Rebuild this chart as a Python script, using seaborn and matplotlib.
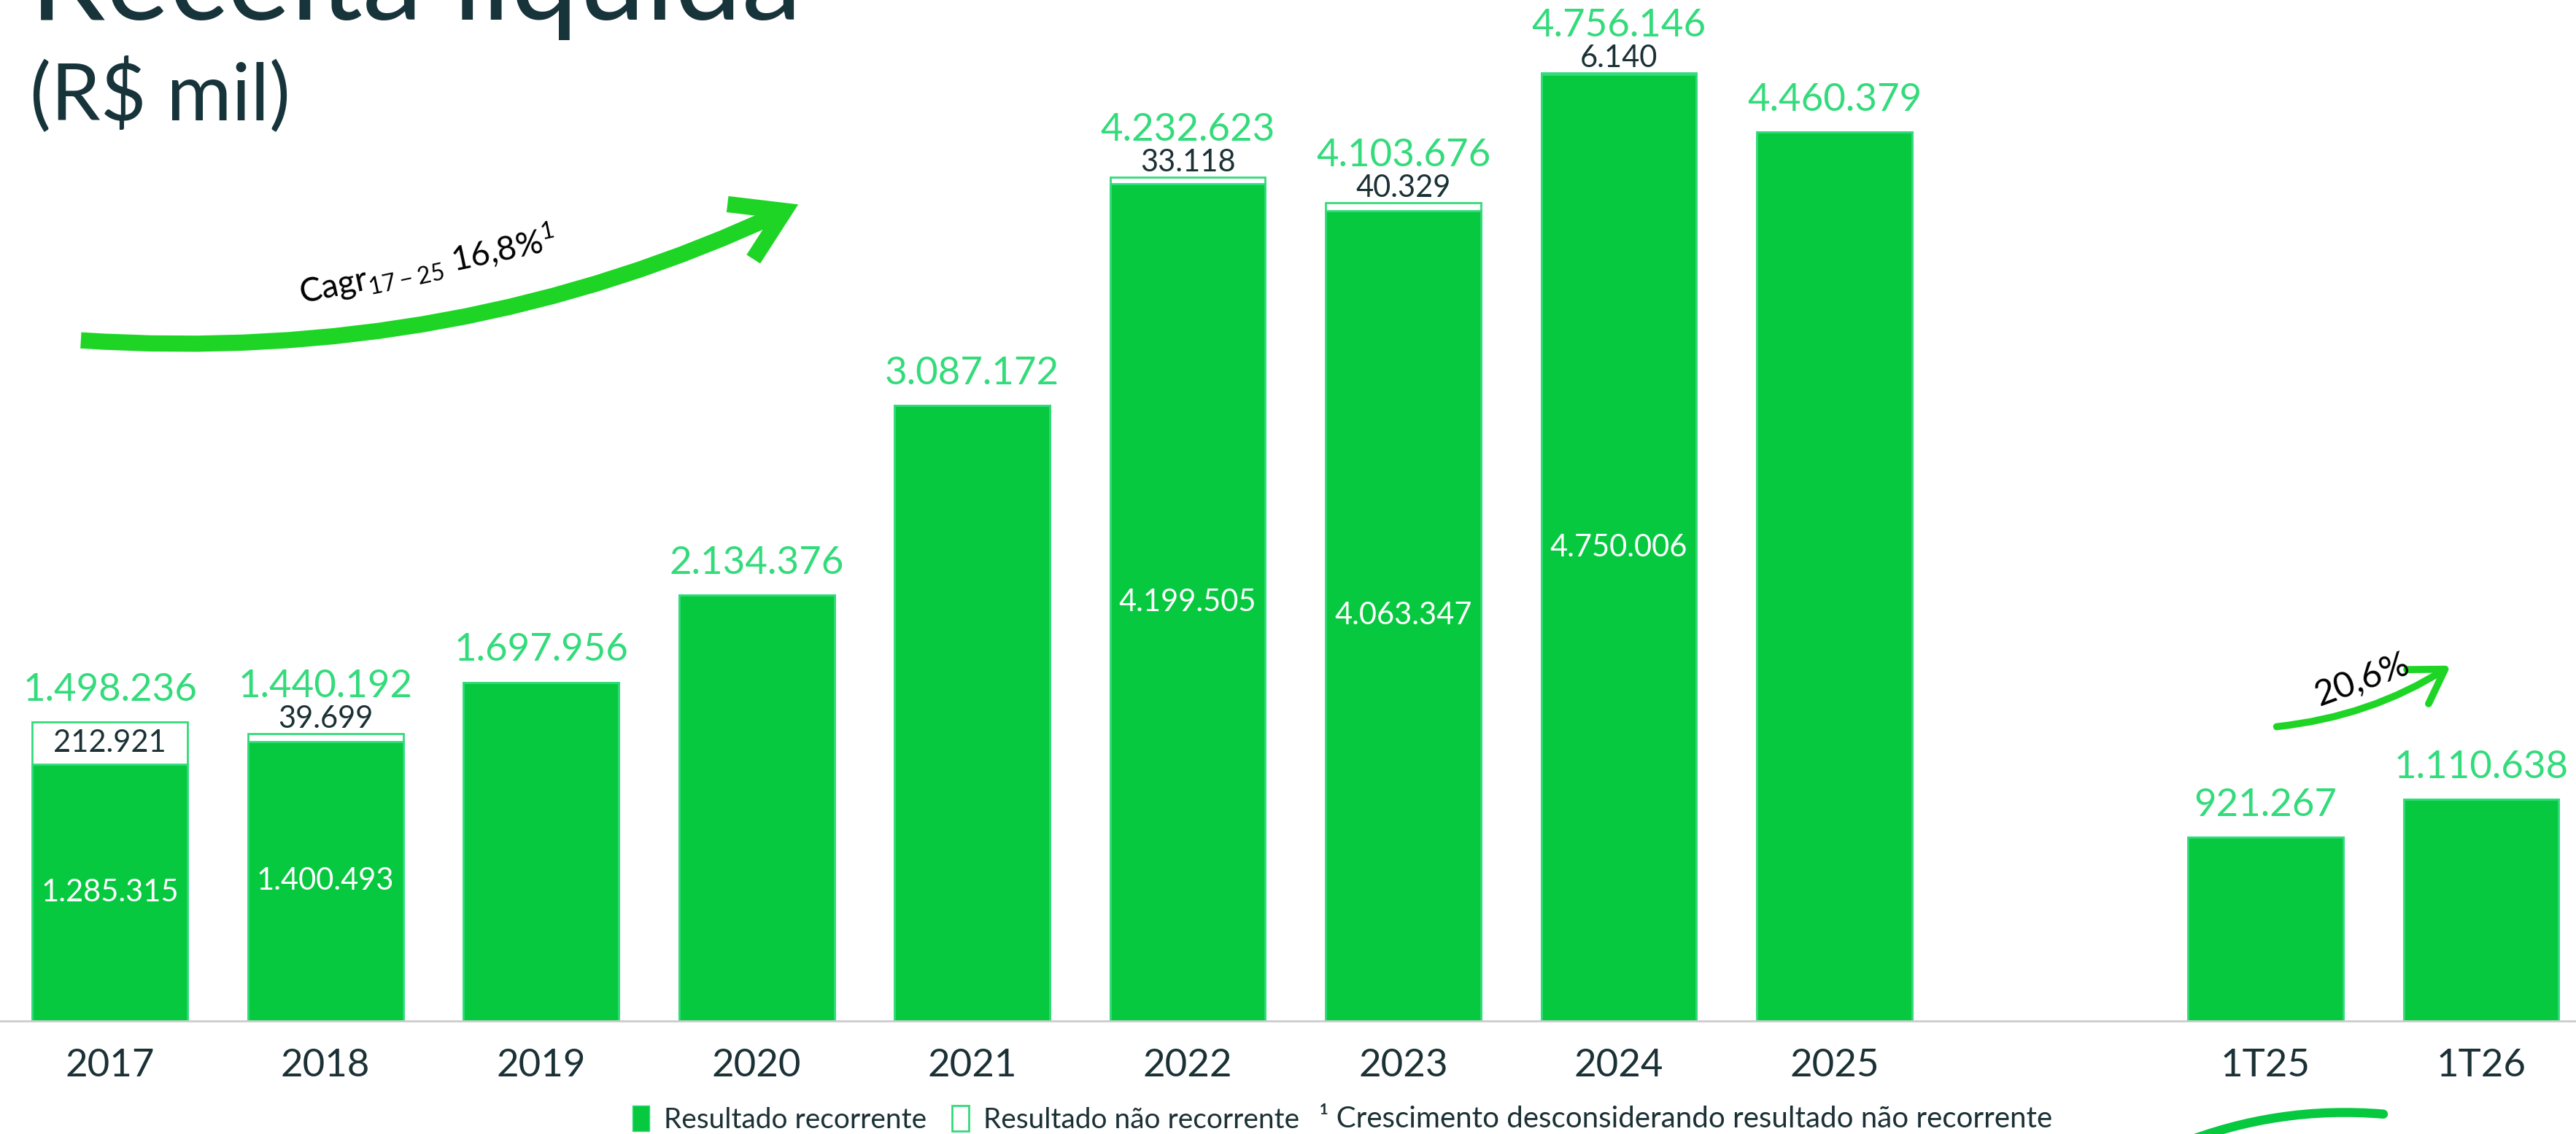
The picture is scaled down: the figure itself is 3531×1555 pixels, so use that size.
import pandas as pd
import seaborn as sns
import matplotlib.pyplot as plt
from matplotlib.patches import Patch, FancyArrowPatch

# ==========================
# Data
# ==========================
periodos = ["2017", "2018", "2019", "2020", "2021", "2022", "2023", "2024", "2025", "1T25", "1T26"]
recorrente = [1285315, 1400493, 1697956, 2134376, 3087172, 4199505, 4063347, 4750006, 4460379, 921267, 1110638]
nao_recorrente = [212921, 39699, 0, 0, 0, 33118, 40329, 6140, 0, 0, 0]
total = [r + n for r, n in zip(recorrente, nao_recorrente)]

# blank slot between the annual bars and the quarters
ordem = periodos[:9] + [" "] + periodos[9:]

df = pd.DataFrame({"periodo": periodos, "recorrente": recorrente,
                   "nao_recorrente": nao_recorrente, "total": total})

# ==========================
# Style
# ==========================
VERDE = "#06C93F"
VERDE_CLARO = "#33DB7B"
VERDE_SETA = "#1ED526"
ESCURO = "#1B3136"

sns.set_style("white")
plt.rcParams["font.family"] = ["Lato", "DejaVu Sans"]
plt.rcParams["mathtext.fontset"] = "custom"
plt.rcParams["mathtext.rm"] = "Lato"

fig = plt.figure(figsize=(35.31, 15.55), dpi=100)
ax = fig.add_axes([0, 0.1, 1, 0.9])

# total bar (white top = non recurring part), then recurring bar on top of it
sns.barplot(data=df, x="periodo", y="total", order=ordem, width=0.72,
            color="white", edgecolor=VERDE_CLARO, linewidth=2, ax=ax)
sns.barplot(data=df, x="periodo", y="recorrente", order=ordem, width=0.72,
            color=VERDE, saturation=1, edgecolor=VERDE_CLARO, linewidth=2, ax=ax)

ax.set_xlim(-0.51, 11.44)
ax.set_ylim(0, 5.122e6)
ax.set_xlabel("")
ax.set_ylabel("")
ax.set_yticks([])
sns.despine(ax=ax, left=True)
ax.spines["bottom"].set_color("#CCCCCC")
ax.spines["bottom"].set_linewidth(2)
ax.tick_params(axis="x", length=0, pad=28, labelsize=38, labelcolor=ESCURO)


def fmt(v):
    return f"{v:,}".replace(",", ".")


# ==========================
# Value labels
# ==========================
for i, p in enumerate(periodos):
    x = ordem.index(p)
    tot = total[i]
    nr = nao_recorrente[i]
    rec = recorrente[i]
    if nr > 100000:
        # label inside the white box
        ax.text(x, rec + nr / 2, fmt(nr), ha="center", va="center", fontsize=30, color=ESCURO)
        off = 21
    elif nr > 0:
        ax.annotate(fmt(nr), (x, tot), xytext=(0, 6), textcoords="offset points",
                    ha="center", va="baseline", fontsize=30, color=ESCURO)
        off = 36
    else:
        off = 21
    ax.annotate(fmt(tot), (x, tot), xytext=(0, off), textcoords="offset points",
                ha="center", va="baseline", fontsize=38, color=VERDE_CLARO)
    if nr > 0:
        ax.text(x, rec / 2, fmt(rec), ha="center", va="center", fontsize=30, color="white")

# ==========================
# Title
# ==========================
fig.text(0.0115, 0.9826, "Receita líquida", fontsize=119, color="#17343A", va="baseline")
fig.text(0.0115, 0.916, "(R$ mil)", fontsize=78, color="#17343A", va="center")

# ==========================
# Growth arrows
# ==========================
seta1 = FancyArrowPatch((0.0306, 0.700), (0.3106, 0.8205), transform=fig.transFigure,
                        connectionstyle="arc3,rad=0.13", arrowstyle="->,head_length=2.4,head_width=1.5",
                        color=VERDE_SETA, lw=16, mutation_scale=20, capstyle="butt", joinstyle="miter")
fig.patches.append(seta1)
fig.text(0.166, 0.766, r"Cagr$_{\mathrm{17-25}}$ 16,8%$^{\mathrm{1}}$", fontsize=33,
         rotation=12, ha="center", va="center", color="black")

seta2 = FancyArrowPatch((0.883, 0.359), (0.952, 0.414), transform=fig.transFigure,
                        connectionstyle="arc3,rad=0.12", arrowstyle="->,head_length=1.6,head_width=1.0",
                        color=VERDE_SETA, lw=7, mutation_scale=20)
fig.patches.append(seta2)
fig.text(0.917, 0.401, "20,6%", fontsize=35, rotation=20, ha="center", va="center", color="black")

# decorative stroke bottom right
curva = FancyArrowPatch((0.845, -0.01), (0.926, 0.0174), transform=fig.transFigure,
                        connectionstyle="arc3,rad=-0.12", arrowstyle="-",
                        color=VERDE, lw=9)
fig.patches.append(curva)

# ==========================
# Legend + footnote
# ==========================
handles = [Patch(facecolor=VERDE, edgecolor=VERDE_CLARO, label="Resultado recorrente"),
           Patch(facecolor="white", edgecolor=VERDE_CLARO, linewidth=2, label="Resultado não recorrente")]
fig.legend(handles=handles, loc="center left", bbox_to_anchor=(0.2455, 0.013), ncol=2,
           frameon=False, fontsize=28, labelcolor=ESCURO, handlelength=0.6, handleheight=1.0,
           handletextpad=0.5, columnspacing=0.9, borderaxespad=0, borderpad=0)
fig.text(0.512, 0.013, "¹ Crescimento desconsiderando resultado não recorrente",
         fontsize=29, color=ESCURO, va="center")

fig.savefig("out.png", dpi=100)
